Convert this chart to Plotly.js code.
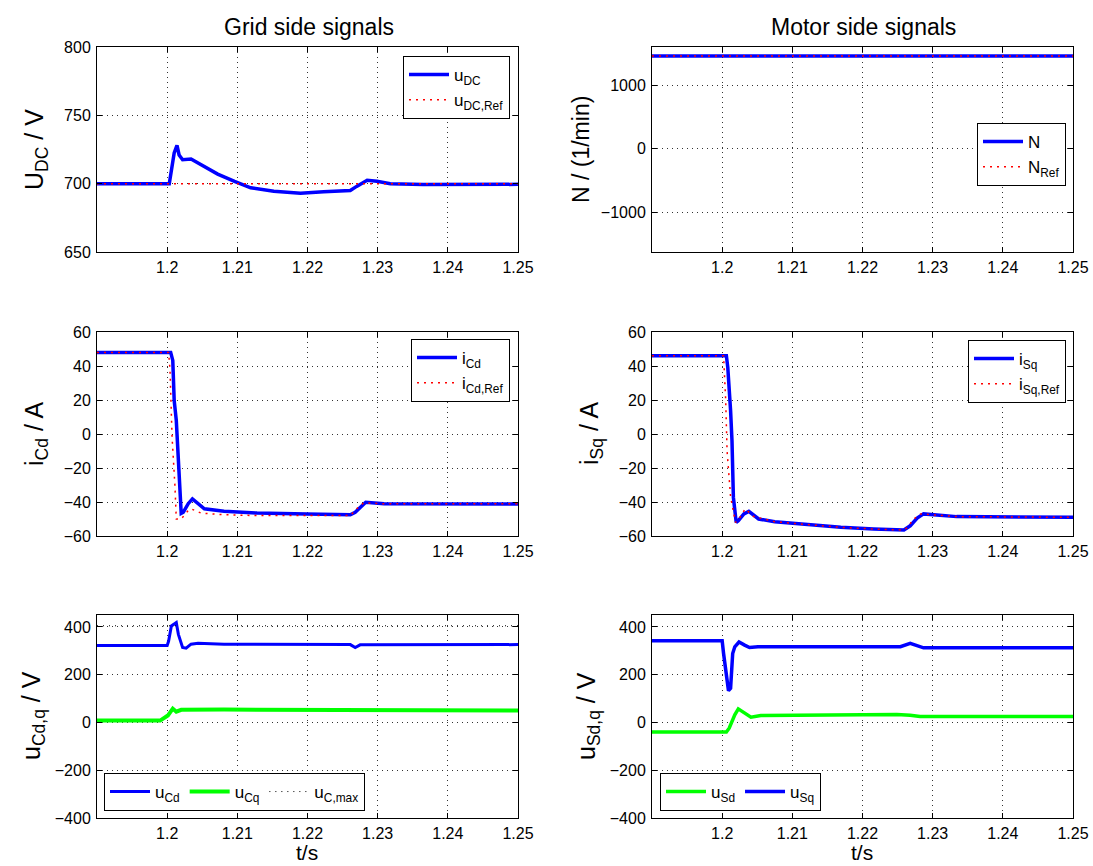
<!DOCTYPE html>
<html><head><meta charset="utf-8">
<script src="https://cdn.plot.ly/plotly-3.0.1.min.js"></script>
<style>html,body{margin:0;padding:0;background:#fff}#chart{width:1093px;height:866px}</style>
</head><body><div id="chart"></div>
<script>
// ---- data ----
const t_udc   = [1.19, 1.2003, 1.2010, 1.2014, 1.2017, 1.2022, 1.2034, 1.2048, 1.2072, 1.2096, 1.2119, 1.2152, 1.2190, 1.2223, 1.2261, 1.2270, 1.2285, 1.2299, 1.2318, 1.2365, 1.25];
const v_udc   = [700, 700, 722.5, 728, 721, 717.5, 718, 714, 707, 701.7, 697, 694.4, 693, 694, 695, 698, 702.5, 701.7, 700, 699.3, 699.5];
const t_udcRef = [1.19, 1.25];
const v_udcRef = [700, 700];

const t_N    = [1.19, 1.2, 1.205, 1.21, 1.25];
const v_N    = [1460, 1460, 1465, 1462, 1460];
const t_NRef = [1.19, 1.25];
const v_NRef = [1460, 1460];

const t_icd = [1.19, 1.2005, 1.2008, 1.2010, 1.2013, 1.2015, 1.2017, 1.2020, 1.2023, 1.2030, 1.2036, 1.2043, 1.2053, 1.2081, 1.2128, 1.2199, 1.2261, 1.2268, 1.2276, 1.2283, 1.2309, 1.25];
const v_icd = [48, 48, 43.3, 19.8, 8, -7.7, -31.3, -46.7, -46, -41, -38.2, -40.5, -44, -45.5, -46.5, -47, -47.5, -46, -43, -40.2, -41, -41.2];
const t_icdRef = [1.19, 1.2002, 1.2004, 1.2007, 1.2011, 1.2013, 1.2020, 1.2030, 1.2034, 1.2048, 1.2081, 1.2128, 1.2199, 1.2261, 1.2270, 1.2280, 1.2309, 1.25];
const v_icdRef = [48, 48, 38, -2, -30, -50, -50, -45, -44, -46.5, -47.5, -48, -48, -48, -44, -40.5, -41, -41];

const t_isq = [1.19, 1.2006, 1.2008, 1.2010, 1.2012, 1.2014, 1.2016, 1.2020, 1.2023, 1.2031, 1.2038, 1.2052, 1.2075, 1.2122, 1.2169, 1.2216, 1.2259, 1.2268, 1.2278, 1.2287, 1.2301, 1.2334, 1.25];
const v_isq = [46, 46, 39.2, 28.4, 13.7, -3.9, -37.3, -52, -51, -47, -45.5, -50, -51.6, -53.3, -54.9, -55.9, -56.5, -54, -49.5, -47, -47.5, -48.6, -49];
const t_isqRef = [1.19, 1.2002, 1.2005, 1.2007, 1.2012, 1.2019, 1.2024, 1.2033, 1.2045, 1.2075, 1.2122, 1.2169, 1.2216, 1.2259, 1.2264, 1.2273, 1.2283, 1.2301, 1.2334, 1.25];
const v_isqRef = [46, 46, 20, -10, -37, -52, -50, -44, -48.5, -51.6, -53.3, -54.9, -55.9, -56.5, -55, -50, -47, -47.5, -48.6, -49];

const t_ucd = [1.19, 1.2, 1.2002, 1.2006, 1.2013, 1.2016, 1.2022, 1.2027, 1.2034, 1.2044, 1.2081, 1.2261, 1.2268, 1.2275, 1.25];
const v_ucd = [322, 322, 340, 404, 418, 369, 314, 311, 328, 332, 328, 326, 314, 325, 326];
const t_ucq = [1.19, 1.199, 1.2001, 1.2008, 1.2013, 1.2020, 1.2081, 1.2223, 1.25];
const v_ucq = [8, 8, 29, 58, 45, 53, 54, 53, 50];
const t_ucmax = [1.19, 1.25];
const v_ucmax = [405, 405];

const t_usq = [1.19, 1.2, 1.2002, 1.2006, 1.2009, 1.2012, 1.2015, 1.2018, 1.2024, 1.2032, 1.2039, 1.2051, 1.2254, 1.2268, 1.2277, 1.2287, 1.25];
const v_usq = [342, 342, 289, 206, 133, 143, 289, 317, 337, 324, 314, 317, 317, 331, 324, 312.5, 312.5];
const t_usd = [1.19, 1.2006, 1.2010, 1.2018, 1.2023, 1.2032, 1.2041, 1.2055, 1.2122, 1.2249, 1.2268, 1.2282, 1.25];
const v_usd = [-40, -40, -24, 32, 57, 39, 22, 29, 30.5, 33, 30, 25, 25];

const xTicks = [1.2, 1.21, 1.22, 1.23, 1.24, 1.25];
const xTickText = ['1.2', '1.21', '1.22', '1.23', '1.24', '1.25'];
const yTicksUdc = [650, 700, 750, 800];
const yTicksN = [-1000, 0, 1000];
const yTicksI = [-60, -40, -20, 0, 20, 40, 60];
const yTicksU = [-400, -200, 0, 200, 400];

// ---- styles ----
const FONT = 'Arial, "Liberation Sans", Helvetica, sans-serif';
const BLUE = '#0000ff', RED = '#ff0000', GREEN = '#00ff00';
const W = 1093, H = 866;
const colL = [97 / W, 518 / W], colR = [652 / W, 1073 / W];
const rowT = [1 - 252 / H, 1 - 47 / H], rowM = [1 - 536 / H, 1 - 332 / H], rowB = [1 - 818 / H, 1 - 615 / H];
const GRIDDASH = '1px,4px';
const REFDASH = '2px,5px';
const TICKSIZE = 16;

function xa(dom, anchor) {
  return { domain: dom, anchor: anchor, range: [1.19, 1.25], tickvals: xTicks, ticktext: xTickText,
    showgrid: true, gridcolor: '#333', griddash: GRIDDASH, gridwidth: 1, zeroline: false,
    showline: true, linecolor: '#000', linewidth: 1, mirror: 'ticks', ticks: 'inside', ticklen: 5, tickcolor: '#000',
    tickfont: { family: FONT, size: TICKSIZE, color: '#000' }, ticklabelstandoff: 1 };
}
function ya(dom, anchor, range, ticks) {
  return { domain: dom, anchor: anchor, range: range, tickvals: ticks,
    showgrid: true, gridcolor: '#333', griddash: GRIDDASH, gridwidth: 1, zeroline: false,
    showline: true, linecolor: '#000', linewidth: 1, mirror: 'ticks', ticks: 'inside', ticklen: 5, tickcolor: '#000',
    tickfont: { family: FONT, size: TICKSIZE, color: '#000' }, ticklabelstandoff: 2 };
}
function tr(x, y, name, color, width, dash, xaxis, yaxis, legend) {
  return { x: x, y: y, name: name, type: 'scatter', mode: 'lines', xaxis: xaxis, yaxis: yaxis, legend: legend,
    line: { color: color, width: width, dash: dash || 'solid' } };
}

const data = [
  tr(t_udc, v_udc, 'u<sub>DC</sub>', BLUE, 3.5, 'solid', 'x', 'y', 'legend'),
  tr(t_udcRef, v_udcRef, 'u<sub>DC,Ref</sub>', RED, 1.5, REFDASH, 'x', 'y', 'legend'),
  tr(t_N, v_N, 'N', BLUE, 3.5, 'solid', 'x2', 'y2', 'legend2'),
  tr(t_NRef, v_NRef, 'N<sub>Ref</sub>', RED, 1.5, REFDASH, 'x2', 'y2', 'legend2'),
  tr(t_icd, v_icd, 'i<sub>Cd</sub>', BLUE, 3.5, 'solid', 'x3', 'y3', 'legend3'),
  tr(t_icdRef, v_icdRef, 'i<sub>Cd,Ref</sub>', RED, 1.5, REFDASH, 'x3', 'y3', 'legend3'),
  tr(t_isq, v_isq, 'i<sub>Sq</sub>', BLUE, 3.5, 'solid', 'x4', 'y4', 'legend4'),
  tr(t_isqRef, v_isqRef, 'i<sub>Sq,Ref</sub>', RED, 1.5, REFDASH, 'x4', 'y4', 'legend4'),
  tr(t_ucd, v_ucd, 'u<sub>Cd</sub>', BLUE, 3, 'solid', 'x5', 'y5', 'legend5'),
  tr(t_ucq, v_ucq, 'u<sub>Cq</sub>', GREEN, 4, 'solid', 'x5', 'y5', 'legend5'),
  tr(t_ucmax, v_ucmax, 'u<sub>C,max</sub>', '#000', 1, '1px,5px', 'x5', 'y5', 'legend5'),
  tr(t_usd, v_usd, 'u<sub>Sd</sub>', GREEN, 3.5, 'solid', 'x6', 'y6', 'legend6'),
  tr(t_usq, v_usq, 'u<sub>Sq</sub>', BLUE, 3.5, 'solid', 'x6', 'y6', 'legend6')
];

function leg(x, y, xanchor, yanchor, horiz) {
  return { x: x, y: y, xanchor: xanchor, yanchor: yanchor, orientation: horiz ? 'h' : 'v',
    bgcolor: '#fff', bordercolor: '#000', borderwidth: 1,
    font: { family: FONT, size: 17, color: '#000' }, tracegroupgap: 2, itemwidth: 40 };
}

function ann(text, x, y, size, angle) {
  return { text: text, x: x / W, y: 1 - y / H, xref: 'paper', yref: 'paper', xanchor: 'center', yanchor: 'middle',
    showarrow: false, textangle: angle || 0, font: { family: FONT, size: size, color: '#000' } };
}

const layout = {
  width: W, height: H, margin: { l: 0, r: 0, t: 0, b: 0 },
  paper_bgcolor: '#fff', plot_bgcolor: '#fff', showlegend: true,
  font: { family: FONT, color: '#000' },
  xaxis: xa(colL, 'y'), yaxis: ya(rowT, 'x', [650, 800], yTicksUdc),
  xaxis2: xa(colR, 'y2'), yaxis2: ya(rowT, 'x2', [-1620, 1600], yTicksN),
  xaxis3: xa(colL, 'y3'), yaxis3: ya(rowM, 'x3', [-60, 60], yTicksI),
  xaxis4: xa(colR, 'y4'), yaxis4: ya(rowM, 'x4', [-60, 60], yTicksI),
  xaxis5: xa(colL, 'y5'), yaxis5: ya(rowB, 'x5', [-400, 450], yTicksU),
  xaxis6: xa(colR, 'y6'), yaxis6: ya(rowB, 'x6', [-400, 450], yTicksU),
  legend: leg(510 / W, 1 - 56 / H, 'right', 'top', false),
  legend2: leg(1066 / W, 1 - 123 / H, 'right', 'top', false),
  legend3: leg(510 / W, 1 - 339 / H, 'right', 'top', false),
  legend4: leg(1066 / W, 1 - 340 / H, 'right', 'top', false),
  legend5: leg(104 / W, 1 - 811 / H, 'left', 'bottom', true),
  legend6: leg(660 / W, 1 - 811 / H, 'left', 'bottom', true),
  annotations: [
    ann('Grid side signals', 309, 27, 23),
    ann('Motor side signals', 863, 27, 23),
    ann('U<sub>DC</sub> / V', 36, 150, 25, -90),
    ann('N / (1/min)', 581, 150, 23, -90),
    ann('i<sub>Cd</sub> / A', 36, 434, 25, -90),
    ann('i<sub>Sq</sub> / A', 591, 434, 25, -90),
    ann('u<sub>Cd,q</sub> / V', 33, 716, 25, -90),
    ann('u<sub>Sd,q</sub> / V', 588, 716, 25, -90),
    ann('t/s', 307, 852, 21),
    ann('t/s', 862, 852, 21)
  ]
};

Plotly.newPlot('chart', data, layout, { displayModeBar: false, staticPlot: true });
</script></body></html>
